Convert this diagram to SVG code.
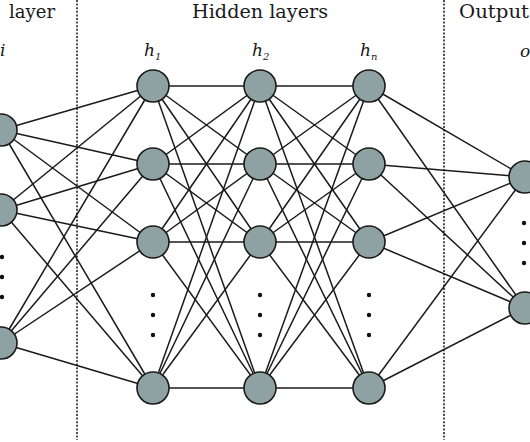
<svg xmlns="http://www.w3.org/2000/svg" width="530" height="442" viewBox="0 0 530 442">
<style>
.t{font-family:"DejaVu Serif","Liberation Serif",serif;font-size:18px;fill:#1a1a1a}
.lab{font-family:"DejaVu Serif","Liberation Serif",serif;font-style:italic;font-size:17px;fill:#1a1a1a}
.sub{font-size:10px}
.n{fill:#8ea2a3;stroke:#1a1a1a;stroke-width:1.6}
.e line{stroke:#1a1a1a;stroke-width:1.5}
.sep{stroke:#222;stroke-width:1.6;stroke-dasharray:2 1.6}
.dot{fill:#111}
</style>
<rect width="530" height="442" fill="#fff"/>
<g id="separators">
<line class="sep" x1="77" y1="0" x2="77" y2="440"/>
<line class="sep" x1="444" y1="0" x2="444" y2="440"/>
</g>
<g id="titles">
<text class="t" x="55" y="18" text-anchor="end">layer</text>
<text class="t" x="192" y="18" textLength="136" lengthAdjust="spacingAndGlyphs">Hidden layers</text>
<text class="t" x="459" y="18" textLength="70" lengthAdjust="spacingAndGlyphs">Output</text>
</g>
<g id="connectors" class="e">
<line x1="1" y1="130" x2="153" y2="86"/><line x1="1" y1="130" x2="153" y2="164"/><line x1="1" y1="130" x2="153" y2="242"/><line x1="1" y1="130" x2="153" y2="388"/>
<line x1="1" y1="210" x2="153" y2="86"/><line x1="1" y1="210" x2="153" y2="164"/><line x1="1" y1="210" x2="153" y2="242"/><line x1="1" y1="210" x2="153" y2="388"/>
<line x1="1" y1="343" x2="153" y2="86"/><line x1="1" y1="343" x2="153" y2="164"/><line x1="1" y1="343" x2="153" y2="242"/><line x1="1" y1="343" x2="153" y2="388"/>
<line x1="153" y1="86" x2="260" y2="86"/><line x1="153" y1="86" x2="260" y2="164"/><line x1="153" y1="86" x2="260" y2="242"/><line x1="153" y1="86" x2="260" y2="388"/>
<line x1="153" y1="164" x2="260" y2="86"/><line x1="153" y1="164" x2="260" y2="164"/><line x1="153" y1="164" x2="260" y2="242"/><line x1="153" y1="164" x2="260" y2="388"/>
<line x1="153" y1="242" x2="260" y2="86"/><line x1="153" y1="242" x2="260" y2="164"/><line x1="153" y1="242" x2="260" y2="242"/><line x1="153" y1="242" x2="260" y2="388"/>
<line x1="153" y1="388" x2="260" y2="86"/><line x1="153" y1="388" x2="260" y2="164"/><line x1="153" y1="388" x2="260" y2="242"/><line x1="153" y1="388" x2="260" y2="388"/>
<line x1="260" y1="86" x2="369" y2="86"/><line x1="260" y1="86" x2="369" y2="164"/><line x1="260" y1="86" x2="369" y2="242"/><line x1="260" y1="86" x2="369" y2="388"/>
<line x1="260" y1="164" x2="369" y2="86"/><line x1="260" y1="164" x2="369" y2="164"/><line x1="260" y1="164" x2="369" y2="242"/><line x1="260" y1="164" x2="369" y2="388"/>
<line x1="260" y1="242" x2="369" y2="86"/><line x1="260" y1="242" x2="369" y2="164"/><line x1="260" y1="242" x2="369" y2="242"/><line x1="260" y1="242" x2="369" y2="388"/>
<line x1="260" y1="388" x2="369" y2="86"/><line x1="260" y1="388" x2="369" y2="164"/><line x1="260" y1="388" x2="369" y2="242"/><line x1="260" y1="388" x2="369" y2="388"/>
<line x1="369" y1="86" x2="525" y2="177"/><line x1="369" y1="86" x2="525" y2="308"/>
<line x1="369" y1="164" x2="525" y2="177"/><line x1="369" y1="164" x2="525" y2="308"/>
<line x1="369" y1="242" x2="525" y2="177"/><line x1="369" y1="242" x2="525" y2="308"/>
<line x1="369" y1="388" x2="525" y2="177"/><line x1="369" y1="388" x2="525" y2="308"/>
</g>
<g id="input-layer">
<text class="lab" x="0" y="56">i</text>
<circle class="n" cx="1" cy="130" r="16"/>
<circle class="n" cx="1" cy="210" r="16"/>
<circle class="dot" cx="2" cy="257" r="2.2"/><circle class="dot" cx="2" cy="277" r="2.2"/><circle class="dot" cx="2" cy="297" r="2.2"/>
<circle class="n" cx="1" cy="343" r="16"/>
</g>
<g id="hidden-1">
<text class="lab" x="144" y="56">h<tspan class="sub" dy="4">1</tspan></text>
<circle class="n" cx="153" cy="86" r="16"/>
<circle class="n" cx="153" cy="164" r="16"/>
<circle class="n" cx="153" cy="242" r="16"/>
<circle class="dot" cx="153" cy="295" r="2.2"/><circle class="dot" cx="153" cy="315" r="2.2"/><circle class="dot" cx="153" cy="335" r="2.2"/>
<circle class="n" cx="153" cy="388" r="16"/>
</g>
<g id="hidden-2">
<text class="lab" x="252" y="56">h<tspan class="sub" dy="4">2</tspan></text>
<circle class="n" cx="260" cy="86" r="16"/>
<circle class="n" cx="260" cy="164" r="16"/>
<circle class="n" cx="260" cy="242" r="16"/>
<circle class="dot" cx="260" cy="295" r="2.2"/><circle class="dot" cx="260" cy="315" r="2.2"/><circle class="dot" cx="260" cy="335" r="2.2"/>
<circle class="n" cx="260" cy="388" r="16"/>
</g>
<g id="hidden-n">
<text class="lab" x="360" y="56">h<tspan class="sub" dy="4">n</tspan></text>
<circle class="n" cx="369" cy="86" r="16"/>
<circle class="n" cx="369" cy="164" r="16"/>
<circle class="n" cx="369" cy="242" r="16"/>
<circle class="dot" cx="369" cy="295" r="2.2"/><circle class="dot" cx="369" cy="315" r="2.2"/><circle class="dot" cx="369" cy="335" r="2.2"/>
<circle class="n" cx="369" cy="388" r="16"/>
</g>
<g id="output-layer">
<text class="lab" x="520" y="57">o</text>
<circle class="n" cx="525" cy="177" r="16"/>
<circle class="dot" cx="524" cy="223" r="2.2"/><circle class="dot" cx="524" cy="243" r="2.2"/><circle class="dot" cx="524" cy="263" r="2.2"/>
<circle class="n" cx="525" cy="308" r="16"/>
</g>
</svg>
